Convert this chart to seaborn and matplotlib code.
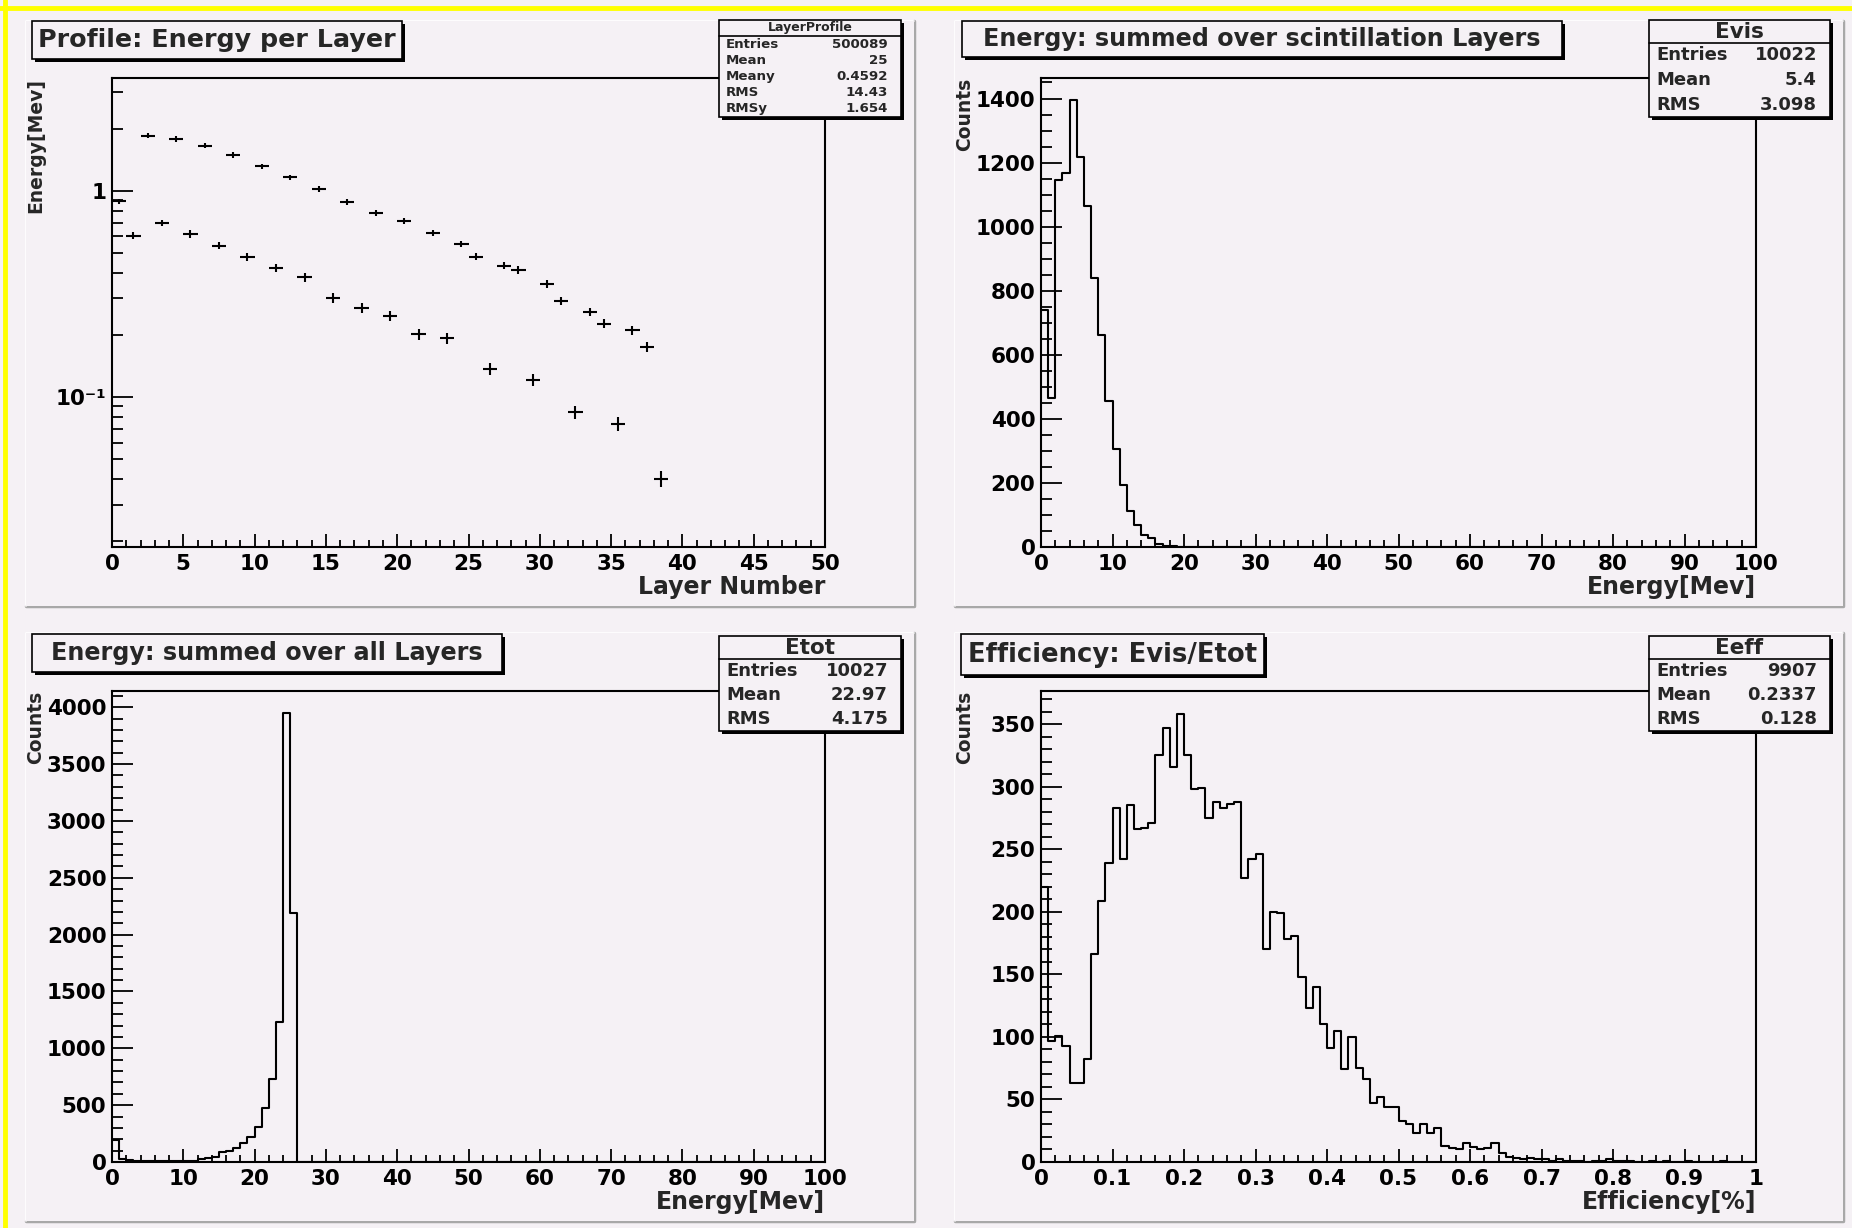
import numpy as np
import pandas as pd
import matplotlib
matplotlib.use("Agg")
import matplotlib.pyplot as plt
import seaborn as sns
from matplotlib.patches import Rectangle
from matplotlib.lines import Line2D
from matplotlib.ticker import MultipleLocator, FixedLocator, LogLocator, NullFormatter

# Profile: mean energy per layer (log y)
layer_centers = np.arange(39) + 0.5
layer_energy = [0.889, 0.606, 1.848, 0.700, 1.784, 0.617, 1.656, 0.541, 1.493, 0.477,
                1.315, 0.424, 1.160, 0.380, 1.018, 0.301, 0.882, 0.270, 0.780, 0.247,
                0.715, 0.201, 0.625, 0.193, 0.553, 0.479, 0.137, 0.432, 0.413, 0.121,
                0.353, 0.293, 0.084, 0.257, 0.226, 0.074, 0.210, 0.175, 0.040]
layer_relerr = [0.03, 0.035, 0.03, 0.035, 0.03, 0.04, 0.03, 0.04, 0.03, 0.045,
                0.03, 0.045, 0.03, 0.05, 0.03, 0.055, 0.03, 0.055, 0.035, 0.055,
                0.035, 0.06, 0.035, 0.06, 0.035, 0.04, 0.065, 0.04, 0.04, 0.07,
                0.045, 0.045, 0.075, 0.045, 0.05, 0.08, 0.05, 0.055, 0.09]

# Evis: energy summed over scintillation layers, 100 bins 0..100
evis_counts = [740, 466, 1147, 1166, 1395, 1217, 1065, 839, 662, 455,
               305, 193, 112, 68, 38, 28, 8, 3, 2, 1, 1, 1] + [0] * 78

# Etot: energy summed over all layers, 100 bins 0..100
etot_counts = [190, 30, 15, 6, 6, 6, 6, 6, 6, 6,
               6, 12, 24, 36, 40, 85, 97, 127, 166, 218,
               306, 475, 732, 1231, 3946, 2194] + [0] * 74

# Eeff: Evis/Etot, 100 bins 0..1
eeff_counts = [220, 97, 101, 93, 63, 63, 82, 166, 209, 239,
               283, 242, 285, 266, 267, 271, 325, 347, 316, 358,
               325, 298, 299, 275, 288, 283, 286, 288, 227, 242,
               246, 170, 200, 199, 178, 181, 148, 123, 140, 110,
               91, 105, 74, 100, 75, 66, 47, 52, 44, 44,
               33, 30, 23, 30, 23, 27, 13, 11, 10, 15,
               12, 10, 11, 15, 7, 4, 3, 2, 3, 2,
               2, 1, 2, 1, 1, 1, 0, 1, 1, 2,
               1, 1, 1, 0, 0, 1, 0, 1, 0, 0,
               1, 0, 0, 0, 0, 1, 0, 0, 0, 0]

titles = ["Profile: Energy per Layer", "Energy: summed over scintillation Layers",
          "Energy: summed over all Layers", "Efficiency: Evis/Etot"]
stat_names = ["LayerProfile", "Evis", "Etot", "Eeff"]
stat_labels = [["Entries", "Mean", "Meany", "RMS", "RMSy"],
               ["Entries", "Mean", "RMS"],
               ["Entries", "Mean", "RMS"],
               ["Entries", "Mean", "RMS"]]
stat_values = [["500089", "25", "0.4592", "14.43", "1.654"],
               ["10022", "5.4", "3.098"],
               ["10027", "22.97", "4.175"],
               ["9907", "0.2337", "0.128"]]
xlabels = ["Layer Number", "Energy[Mev]", "Energy[Mev]", "Efficiency[%]"]
ylabels = ["Energy[Mev]", "Counts", "Counts", "Counts"]

# ---- styling ----
sns.set_theme(style="ticks")
plt.rcParams['font.family'] = ['DejaVu Sans']
plt.rcParams['font.weight'] = 'bold'

W, H = 1852, 1228
BG = "#f5f1f5"

fig = plt.figure(figsize=(W / 100, H / 100), dpi=100, facecolor=BG)


def fx(x):
    return x / W


def fy(y):
    return 1 - y / H


def add_axes_px(x0, y0, x1, y1):
    return fig.add_axes([fx(x0), fy(y1), (x1 - x0) / W, (y1 - y0) / H])


def frect(x0, y0, x1, y1, **kw):
    r = Rectangle((fx(x0), fy(y1)), (x1 - x0) / W, (y1 - y0) / H,
                  transform=fig.transFigure, **kw)
    fig.patches.append(r)
    return r


def fline(xs, ys, **kw):
    fig.lines.append(Line2D([fx(v) for v in xs], [fy(v) for v in ys],
                            transform=fig.transFigure, **kw))


# yellow canvas edge (top and left)
fline([0, W], [8, 8], color="#ffff00", lw=3.5, zorder=-2)
fline([5, 5], [0, H], color="#ffff00", lw=3.5, zorder=-2)

pads = [(26, 21, 914, 606), (955, 21, 1843, 606),
        (26, 633, 914, 1221), (955, 633, 1843, 1221)]
for (x0, y0, x1, y1) in pads:
    frect(x0, y0, x1, y1, facecolor=BG, edgecolor="none", zorder=-1)
    fline([x0, x1, x1], [y1, y1, y0], color="#a8a8a8", lw=2.5, zorder=-1)
    fline([x0, x0, x1], [y1, y0, y0], color="#ffffff", lw=1.2, zorder=-1)

ax_rects = [(112, 78, 825, 547), (1041, 78, 1756, 547),
            (112, 691, 825, 1162), (1041, 691, 1756, 1162)]
axes = [add_axes_px(*r) for r in ax_rects]

for ax in axes:
    ax.set_facecolor(BG)
    for s in ax.spines.values():
        s.set_color("black")
        s.set_linewidth(1.5)
    ax.tick_params(axis='both', which='both', direction='in', top=False, right=False,
                   colors='black', width=1.3, labelsize=15.5)
    ax.tick_params(axis='y', which='major', length=15, pad=4)
    ax.tick_params(axis='y', which='minor', length=8)
    ax.tick_params(axis='x', which='major', length=9.5, pad=5)
    ax.tick_params(axis='x', which='minor', length=5)

# ---- pad 1: profile ----
ax = axes[0]
yerr = np.array(layer_energy) * np.array(layer_relerr)
ax.errorbar(layer_centers, layer_energy, xerr=0.5, yerr=yerr, fmt='none',
            ecolor='black', elinewidth=1.5, capsize=0)
ax.set_yscale('log')
ax.set_xlim(0, 50)
ax.set_ylim(0.0187, 3.52)
ax.yaxis.set_major_locator(FixedLocator([0.1, 1]))
ax.set_yticklabels(["10⁻¹", "1"])
ax.yaxis.set_minor_locator(LogLocator(base=10, subs=np.arange(2, 10)))
ax.yaxis.set_minor_formatter(NullFormatter())
ax.xaxis.set_major_locator(MultipleLocator(5))
ax.xaxis.set_minor_locator(MultipleLocator(1))

# ---- histograms ----
hist_specs = [
    (axes[1], evis_counts, 1.0, (0, 100), 1464, 200, 50, 10, 2),
    (axes[2], etot_counts, 1.0, (0, 100), 4143, 500, 100, 10, 2),
    (axes[3], eeff_counts, 0.01, (0, 1), 376.5, 50, 10, 0.1, 0.02),
]
for ax, counts, bw, xr, ytop, ymaj, ymin, xmaj, xmin in hist_specs:
    hist_df = pd.DataFrame({
        "x": xr[0] + bw * (np.arange(len(counts)) + 0.5),
        "w": counts,
    })
    sns.histplot(data=hist_df, x="x", weights="w", binwidth=bw, binrange=xr,
                 element='step', fill=False, color='black', linewidth=1.5, ax=ax)
    ax.set_xlim(*xr)
    ax.set_ylim(0, ytop)
    ax.yaxis.set_major_locator(MultipleLocator(ymaj))
    ax.yaxis.set_minor_locator(MultipleLocator(ymin))
    ax.xaxis.set_major_locator(MultipleLocator(xmaj))
    ax.xaxis.set_minor_locator(MultipleLocator(xmin))

axes[3].set_xticks(np.linspace(0, 1, 11))
axes[3].set_xticklabels(["0", "0.1", "0.2", "0.3", "0.4", "0.5", "0.6", "0.7", "0.8", "0.9", "1"])

for ax in axes:
    ax.set_xlabel("")
    ax.set_ylabel("")
    for lab in ax.get_xticklabels() + ax.get_yticklabels():
        lab.set_fontweight('bold')

# ---- axis titles ----
for i, (x0, y0, x1, y1) in enumerate(ax_rects):
    fig.text(fx(x1), fy(y1 + 40), xlabels[i], ha='right', va='center',
             fontsize=17, fontweight='bold')
    fig.text(fx(x0 - 76), fy(y0), ylabels[i], rotation=90, ha='center', va='top',
             fontsize=13.5, fontweight='bold')

# ---- title boxes ----
title_boxes = [(32, 21, 402, 59, 18.3), (962, 21, 1562, 57, 17.2),
               (32, 634, 502, 672, 17.2), (961, 634, 1264, 675, 18.6)]
for t, (x0, y0, x1, y1, fs) in zip(titles, title_boxes):
    frect(x0 + 3, y0 + 3, x1 + 3, y1 + 3, facecolor='black', edgecolor='none', zorder=3)
    frect(x0, y0, x1, y1, facecolor=BG, edgecolor='black', lw=1.2, zorder=4)
    fig.text(fx((x0 + x1) / 2), fy((y0 + y1) / 2), t, ha='center', va='center',
             fontsize=fs, fontweight='bold', zorder=5)

# ---- stats boxes ----
stat_boxes = [(719, 20, 901, 117), (1649, 20, 1830, 117),
              (719, 636, 901, 731), (1649, 636, 1830, 731)]
for i, (x0, y0, x1, y1) in enumerate(stat_boxes):
    frect(x0 + 3, y0 + 3, x1 + 3, y1 + 3, facecolor='black', edgecolor='none', zorder=3)
    frect(x0, y0, x1, y1, facecolor=BG, edgecolor='black', lw=1.2, zorder=4)
    if i == 0:
        head = y0 + 16
        tfs, rfs = 9, 9.6
    else:
        head = y0 + 23
        tfs, rfs = 15.5, 13
    fline([x0, x1], [head, head], color='black', lw=1.2, zorder=5)
    fig.text(fx((x0 + x1) / 2), fy((y0 + head) / 2), stat_names[i], ha='center',
             va='center', fontsize=tfs, fontweight='bold', zorder=6)
    nrow = len(stat_labels[i])
    step = (y1 - head) / nrow
    for k in range(nrow):
        yc = head + step * (k + 0.5)
        fig.text(fx(x0 + 7), fy(yc), stat_labels[i][k], ha='left', va='center',
                 fontsize=rfs, fontweight='bold', zorder=6)
        fig.text(fx(x1 - 13), fy(yc), stat_values[i][k], ha='right', va='center',
                 fontsize=rfs, fontweight='bold', zorder=6)

fig.savefig("out.png", dpi=100, facecolor=BG)
